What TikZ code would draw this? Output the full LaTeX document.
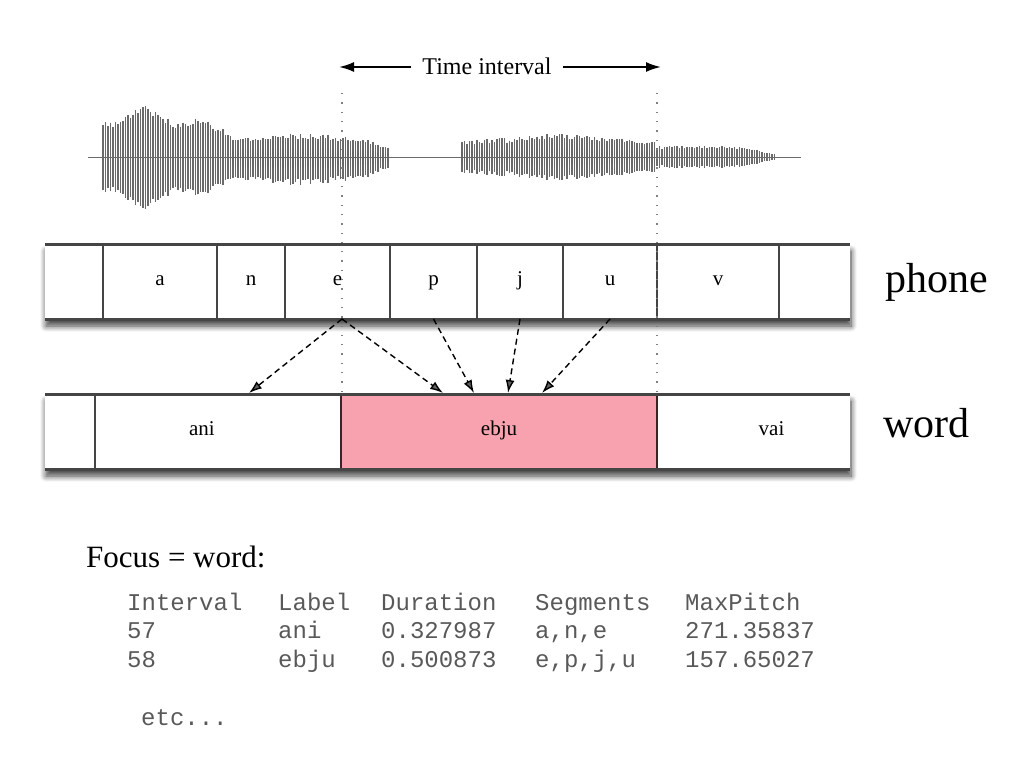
\documentclass[tikz,border=0pt]{standalone}
\usepackage{fontspec}
\setmainfont{Liberation Serif}
\setmonofont{Liberation Mono}
\usetikzlibrary{arrows.meta,positioning,calc,shadows.blur}
\definecolor{rule}{HTML}{454545}
\definecolor{blush}{HTML}{F7A2AE}
\definecolor{plum}{HTML}{3B2626}
\definecolor{wavegray}{HTML}{6A6A6A}
\tikzset{cell/.style={minimum height=75pt,inner sep=0pt,outer sep=0pt,anchor=west,text height=13pt,text depth=5pt,font=\fontsize{21}{21}\selectfont}, tierrow/.style={fill=white,blur shadow={shadow xshift=1pt,shadow yshift=-7pt,shadow blur radius=6pt,shadow blur steps=8,shadow opacity=75}}, divider/.style={draw=rule,line width=1.4pt}, edge/.style={draw=rule,line width=3pt}, tiername/.style={anchor=base west,font=\fontsize{42}{42}\selectfont}, guide/.style={draw=gray,line width=1.3pt,dash pattern=on 1.3pt off 8pt}, link/.style={-{Latex[length=13pt,width=9pt]},line width=1.4pt,dash pattern=on 6pt off 4pt}, span/.style={-{Latex[length=15pt,width=10pt]},line width=2pt}, wave/.style={wavegray,line width=1.3pt}, core/.style={black!60,line width=1.3pt}, col/.style={anchor=base west,inner sep=0pt,font=\ttfamily\fontsize{24}{24}\selectfont,text=black!65}}

\begin{document}
\begin{tikzpicture}[x=1pt,y=-1pt]
\useasboundingbox (0,0) rectangle (1024,768);
\pgfmathsetseed{11}
% speech signal
\draw[wavegray,line width=1pt] (88,157) -- (801,157);
\foreach \x in {103,105.5,...,232}{
  \pgfmathsetmacro\a{(34+18*exp(0-((\x-143)/22)^2)+8*exp(0-((\x-200)/12)^2)-8*max(0,(\x-205)/25))*(0.8+0.2*rnd)}
  \draw[wave,line width=1.7pt] (\x,157-\a) -- (\x,157+1.02*\a);}
\foreach \x in {233,235.5,...,388}{
  \pgfmathsetmacro\a{(18+6*exp(0-((\x-300)/50)^2)-8*max(0,(\x-360)/28))*(0.75+0.25*rnd)}
  \draw[wave] (\x,157-\a) -- (\x,157+1.2*\a);
  \draw[core] (\x,157-0.4*\a) -- (\x,157+0.5*\a);}
\foreach \x in {462,464.5,...,655}{
  \pgfmathsetmacro\a{(17+7*exp(0-((\x-560)/50)^2))*(0.75+0.25*rnd)}
  \draw[wave] (\x,157-\a) -- (\x,157+\a);
  \draw[core] (\x,157-0.4*\a) -- (\x,157+0.4*\a);}
\foreach \x in {657,659.5,...,775}{
  \pgfmathsetmacro\a{(11-8*max(0,(\x-740)/35))*(0.75+0.25*rnd)}
  \draw[wave] (\x,157-\a) -- (\x,157+\a);}

% time interval
\node[font=\fontsize{24}{24}\selectfont,inner xsep=11pt] (span) at (487,66) {Time interval};
\coordinate (sl) at (339,67);
\coordinate (sr) at (661,67);
\draw[span] (span.west |- sl) -- (sl);
\draw[span] (span.east |- sr) -- (sr);

% phone tier
\fill[tierrow] (45,244) rectangle (850,319);
\foreach \l/\r/\t/\n in {45/103//ph0,103/217/a/ph-a,217/285/n/ph-n,285/390/e/ph-e,390/477/p/ph-p,477/563/j/ph-j,563/657/u/ph-u,657/779/v/ph-v,779/850//ph9}
  \node[cell,minimum width={(\r-\l)*1pt}] (\n) at (\l,281.5) {\t};
\foreach \n in {ph-a,ph-n,ph-e,ph-p,ph-j,ph-u,ph-v,ph9}
  \draw[divider] (\n.north west) -- (\n.south west);
\draw[edge] (ph0.north west) -- (ph9.north east);
\draw[edge] (ph0.south west) -- (ph9.south east);
\node[tiername] (phone) at (882,292) {phone};

% word tier
\fill[tierrow] (45,394) rectangle (850,469);
\foreach \l/\r/\n in {45/95/wd0,95/341/wd-ani,657/850/wd-vai}
  \node[cell,minimum width={(\r-\l)*1pt}] (\n) at (\l,431.5) {};
\node[cell,minimum width=316pt,fill=blush,draw=plum,line width=1.5pt] (wd-ebju) at (341,431.5) {ebju};
\node[cell,anchor=center] (lb-ani) at ([xshift=-16pt]wd-ani.center) {ani};
\node[cell,anchor=center] (lb-vai) at ([xshift=18pt]wd-vai.center) {vai};
\draw[divider] (wd-ani.north west) -- (wd-ani.south west);
\draw[edge] (wd0.north west) -- (wd-vai.north east);
\draw[edge] (wd0.south west) -- (wd-vai.south east);
\node[tiername] (word) at (880,437) {word};

% interval guides
\coordinate (g1) at (342,93);
\coordinate (g2) at (657,93);
\draw[guide] (g1) -- (g1 |- wd-ebju.north);
\draw[guide] (g2) -- (g2 |- wd-ebju.north);

% phone to word links
\coordinate (t1) at (249,393);
\coordinate (t2) at (443,393);
\coordinate (t3) at (474,393);
\coordinate (t4) at (508,393);
\coordinate (t5) at (542,393);
\draw[link] ([xshift=4.5pt]ph-e.south) -- (t1);
\draw[link] ([xshift=4.5pt]ph-e.south) -- (t2);
\draw[link] (ph-p.south) -- (t3);
\draw[link] (ph-j.south) -- (t4);
\draw[link] (ph-u.south) -- (t5);

% focus table
\node[anchor=base west,font=\fontsize{31}{31}\selectfont,inner sep=0pt] (focus) at (86,567) {Focus = word:};
\foreach \x/\h/\r/\s [count=\i] in {127/Interval/57/58,278/Label/ani/ebju,381/Duration/0.327987/0.500873,535/Segments/{a,n,e}/{e,p,j,u},685/MaxPitch/271.35837/157.65027}{
  \node[col] (hd\i) at (\x,610) {\h};
  \node[col] (ra\i) at (\x,638) {\r};
  \node[col] (rb\i) at (\x,667) {\s};}
\node[col] (etc) at (141,725) {etc...};
\end{tikzpicture}
\end{document}
